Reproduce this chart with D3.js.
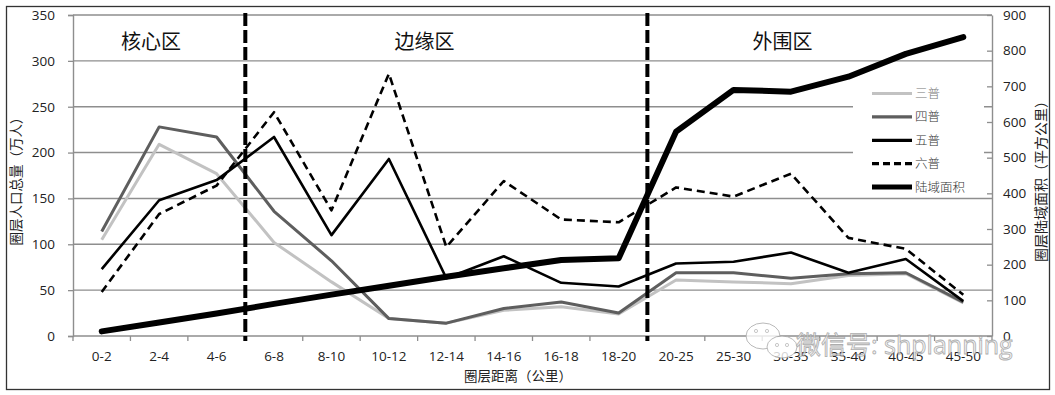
<!DOCTYPE html>
<html>
<head>
<meta charset="utf-8">
<script src="https://cdn.jsdelivr.net/npm/d3@7"></script>
<style>
  body { margin: 0; background: #fff; }
  text { font-family: "Open Sans", "Noto Sans CJK SC", sans-serif; }
</style>
</head>
<body>
<div id="myDiv"></div>
<script>
// ring distance categories (km)
const categories = ["0-2", "2-4", "4-6", "6-8", "8-10", "10-12", "12-14", "14-16",
  "16-18", "18-20", "20-25", "25-30", "30-35", "35-40", "40-45", "45-50"];

// population per ring, 10k people (left axis)
const sanPu = [105, 209, 177, 102, 59, 19, 14, 28, 32, 24, 61, 59, 57, 66, 68, 36];
const siPu = [114, 228, 217, 136, 82, 19, 14, 30, 37, 25, 69, 69, 63, 68, 69, 37];
const wuPu = [73, 148, 170, 217, 110, 193, 63, 87, 58, 54, 79, 81, 91, 69, 84, 38];
const liuPu = [48, 133, 164, 244, 137, 286, 97, 169, 127, 124, 162, 152, 177, 107, 95, 45];

// land area per ring, km2 (right axis)
const landArea = [13, 38, 63, 90, 116, 141, 166, 190, 213, 218, 573, 690, 685, 727, 791, 838];

const leftTicks = [0, 50, 100, 150, 200, 250, 300, 350];
const rightTicks = [0, 100, 200, 300, 400, 500, 600, 700, 800, 900];

// zone names and the category where each zone starts
const zoneNames = ["核心区", "边缘区", "外围区"];
const zoneStarts = ["0-2", "6-8", "20-25"];

const seriesNames = ["三普", "四普", "五普", "六普", "陆域面积"];

let svg = d3.select("#myDiv").append("svg")
  .attr("width", 1055)
  .attr("height", 395);

// outer frame
svg.append("rect")
  .attr("x", 6.5).attr("y", 6.5)
  .attr("width", 1043).attr("height", 383)
  .attr("fill", "none")
  .attr("stroke", "#333")
  .attr("stroke-width", 1.3);

const plotLeft = 73, plotRight = 992, plotTop = 15, plotBottom = 336;

let x = d3.scaleBand().domain(categories).range([plotLeft, plotRight]);
let yL = d3.scaleLinear().domain([0, 350]).range([plotBottom, plotTop]);
let yR = d3.scaleLinear().domain([0, 900]).range([plotBottom, plotTop]);
let cx = function (c) { return x(c) + x.bandwidth() / 2; };

// horizontal gridlines
svg.append("g").selectAll("line").data(leftTicks.slice(1)).enter().append("line")
  .attr("x1", plotLeft).attr("x2", plotRight)
  .attr("y1", d => yL(d)).attr("y2", d => yL(d))
  .attr("stroke", "#8e8e8e")
  .attr("stroke-width", 1.4);

// left axis
let axL = svg.append("g")
  .attr("transform", "translate(" + plotLeft + ",0)")
  .call(d3.axisLeft(yL).tickValues(leftTicks).tickSize(5).tickPadding(13));
axL.selectAll("text").attr("font-size", "13.5px").attr("fill", "#222");

// right axis (ticks point inward)
let axR = svg.append("g")
  .attr("transform", "translate(" + plotRight + ",0)")
  .call(d3.axisRight(yR).tickValues(rightTicks).tickSizeInner(-5).tickSizeOuter(0).tickPadding(11));
axR.selectAll("text").attr("font-size", "13.5px").attr("fill", "#222");

// bottom axis, labels only; ticks on category boundaries
let axB = svg.append("g")
  .attr("transform", "translate(0," + plotBottom + ")")
  .call(d3.axisBottom(x).tickSize(0).tickPadding(15));
axB.selectAll("text").attr("font-size", "13.5px").attr("fill", "#222");
axB.select(".domain").remove();

svg.append("g").selectAll("line").data(categories.concat([null])).enter().append("line")
  .attr("x1", d => d ? x(d) : plotRight).attr("x2", d => d ? x(d) : plotRight)
  .attr("y1", plotBottom).attr("y2", plotBottom + 5)
  .attr("stroke", "#8e8e8e").attr("stroke-width", 1.3);

svg.append("line")
  .attr("x1", plotLeft).attr("x2", plotRight)
  .attr("y1", plotBottom).attr("y2", plotBottom)
  .attr("stroke", "#8e8e8e").attr("stroke-width", 1.4);

svg.selectAll(".domain").attr("stroke", "#8e8e8e").attr("stroke-width", 1.4);
svg.selectAll(".tick line").attr("stroke", "#8e8e8e").attr("stroke-width", 1.3);

// legend box (covers the gridlines behind it)
let lg = svg.append("g");
lg.append("rect")
  .attr("x", 853).attr("y", 72)
  .attr("width", 131).attr("height", 124)
  .attr("fill", "#fff");

// data lines
let lineL = d3.line().x((d, i) => cx(categories[i])).y(d => yL(d));
let lineR = d3.line().x((d, i) => cx(categories[i])).y(d => yR(d));

const styles = [
  { data: sanPu, color: "#c2c2c2", width: 3, dash: null, line: lineL },
  { data: siPu, color: "#5e5e5e", width: 3, dash: null, line: lineL },
  { data: wuPu, color: "#000", width: 2.6, dash: null, line: lineL },
  { data: liuPu, color: "#000", width: 2.6, dash: "8,5", line: lineL },
  { data: landArea, color: "#000", width: 6, dash: null, line: lineR }
];

styles.forEach(function (s) {
  svg.append("path")
    .attr("d", s.line(s.data))
    .attr("fill", "none")
    .attr("stroke", s.color)
    .attr("stroke-width", s.width)
    .attr("stroke-linejoin", "round")
    .attr("stroke-linecap", s.width > 5 ? "round" : "butt")
    .attr("stroke-dasharray", s.dash);
});

// legend entries
styles.forEach(function (s, i) {
  let ly = 93.5 + i * 23.4;
  lg.append("line")
    .attr("x1", 872).attr("x2", 912)
    .attr("y1", ly).attr("y2", ly)
    .attr("stroke", s.color)
    .attr("stroke-width", s.width > 5 ? 5 : 3.2)
    .attr("stroke-dasharray", s.dash ? "7,4" : null);
  lg.append("text")
    .attr("x", 915).attr("y", ly + 4.5)
    .attr("font-family", "Noto Sans CJK SC")
    .attr("font-size", "12.5px")
    .attr("font-weight", 300)
    .attr("fill", i == 0 ? "#777" : "#333")
    .text(seriesNames[i]);
});

// zone boundaries (dashed verticals)
svg.append("g").selectAll("line").data(zoneStarts.slice(1)).enter().append("line")
  .attr("x1", d => x(d)).attr("x2", d => x(d))
  .attr("y1", 13).attr("y2", 341)
  .attr("stroke", "#000")
  .attr("stroke-width", 4)
  .attr("stroke-dasharray", "13,4");

// zone labels
const zoneLabelX = [151, 424.5, 782.5];
svg.append("g").selectAll("text").data(zoneNames).enter().append("text")
  .attr("x", (d, i) => zoneLabelX[i])
  .attr("y", 49)
  .attr("text-anchor", "middle")
  .attr("font-family", "Noto Sans CJK SC")
  .attr("font-size", "20px")
  .attr("fill", "#111")
  .text(d => d);

// axis titles
svg.append("text")
  .attr("transform", "translate(21,178) rotate(-90)")
  .attr("text-anchor", "middle")
  .attr("font-family", "Noto Sans CJK SC")
  .attr("font-size", "13.5px")
  .attr("fill", "#222")
  .text("圈层人口总量（万人）");

svg.append("text")
  .attr("transform", "translate(1046,178) rotate(-90)")
  .attr("text-anchor", "middle")
  .attr("font-family", "Noto Sans CJK SC")
  .attr("font-size", "14px")
  .attr("fill", "#222")
  .text("圈层陆域面积（平方公里）");

svg.append("text")
  .attr("x", 518).attr("y", 381)
  .attr("text-anchor", "middle")
  .attr("font-family", "Noto Sans CJK SC")
  .attr("font-size", "13.5px")
  .attr("fill", "#222")
  .text("圈层距离（公里）");

// watermark
let wm = svg.append("g").attr("opacity", 0.8);
wm.append("ellipse").attr("cx", 763).attr("cy", 336).attr("rx", 17).attr("ry", 13)
  .attr("fill", "#fff").attr("stroke", "#aaa").attr("stroke-width", 1);
wm.append("ellipse").attr("cx", 782).attr("cy", 347).attr("rx", 15).attr("ry", 11)
  .attr("fill", "#fff").attr("stroke", "#aaa").attr("stroke-width", 1);
[[756, 331], [767, 331], [777, 345], [787, 345]].forEach(function (p) {
  wm.append("circle").attr("cx", p[0]).attr("cy", p[1]).attr("r", 1.6)
    .attr("fill", "none").attr("stroke", "#aaa").attr("stroke-width", 0.8);
});
wm.append("text")
  .attr("x", 796).attr("y", 354)
  .attr("font-family", "Noto Sans CJK SC")
  .attr("font-size", "25px")
  .attr("fill", "#f2f2f2")
  .attr("stroke", "#999")
  .attr("stroke-width", 0.8)
  .text("微信号: shplanning");
</script>
</body>
</html>
